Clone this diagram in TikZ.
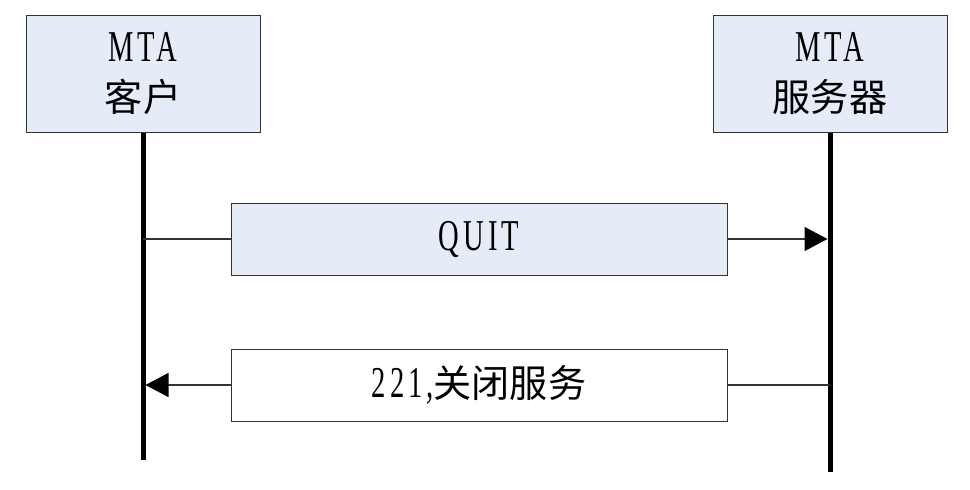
\documentclass[tikz,border=0pt]{standalone}
\usepackage{fontspec}
\setmainfont[FakeStretch=0.65,Scale=1.42,LetterSpace=9]{Liberation Serif}
\newfontfamily\cjk[Scale=1.23]{Noto Sans CJK SC}
\usetikzlibrary{arrows.meta}
\definecolor{boxblue}{HTML}{E6ECF7}
\definecolor{edgegray}{HTML}{333333}
\begin{document}
\begin{tikzpicture}[x=1pt,y=-1pt,
  party/.style={draw=edgegray,fill=boxblue,line width=1pt,minimum width=234pt,minimum height=117pt,align=center,inner sep=0pt,font=\fontsize{31}{50}\selectfont},
  msg/.style={draw=edgegray,line width=1pt,minimum width=496pt,minimum height=72pt,inner sep=0pt,font=\fontsize{31}{36}\selectfont},
  life/.style={line width=5pt,black},
  conn/.style={line width=1.3pt,edgegray},
  tip/.style={-{Triangle[length=23pt,width=24pt,color=black]}}]
\useasboundingbox (0,0) rectangle (970,490);
\node[party] (cli) at (143,73.5) {MTA\\{\cjk 客户}};
\node[party] (srv) at (830,73.5) {MTA\\{\cjk 服务器}};
\coordinate (cliend) at (143,460);
\coordinate (srvend) at (830,472);
\draw[life] (cli.south) -- (cliend);
\draw[life] (srv.south) -- (srvend);
\node[msg,fill=boxblue] (quit) at (479,239) {QUIT};
\node[msg,fill=white] (close) at (479,385) {221,{\cjk 关闭服务}};
\draw[conn] (quit.west) -- (quit.west -| cli.south);
\draw[conn,tip] (quit.east) -- ([xshift=-2.5pt]quit.east -| srv.south);
\draw[conn] (close.east) -- (close.east -| srv.south);
\draw[conn,tip] (close.west) -- ([xshift=2.5pt]close.west -| cli.south);
\end{tikzpicture}
\end{document}
